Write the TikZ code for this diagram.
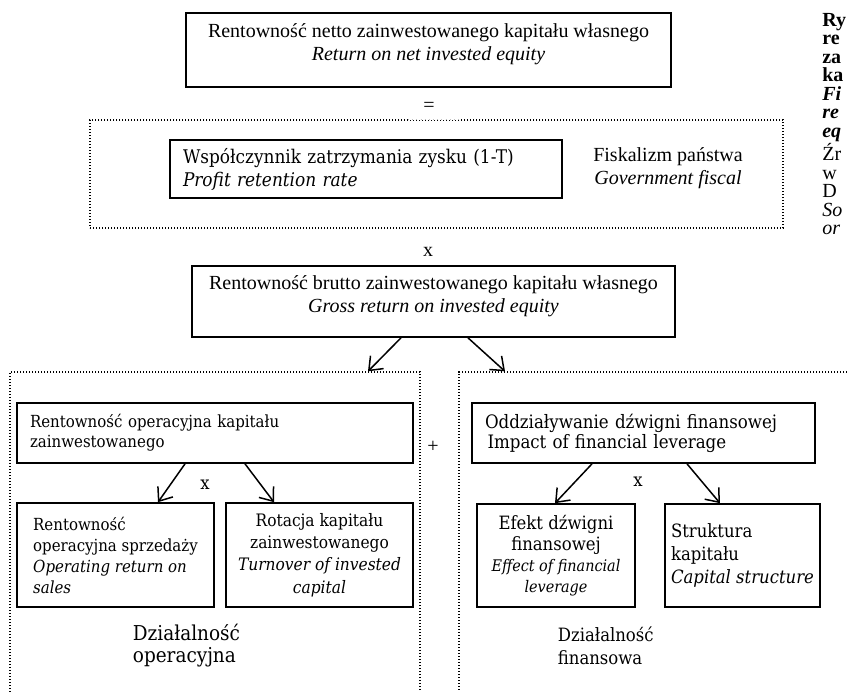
\documentclass[tikz,border=0pt]{standalone}
\usepackage{fontspec}
\setmainfont{Liberation Serif}
\newfontfamily\camfont{DejaVu Serif Condensed}
\usetikzlibrary{arrows.meta,calc}

\begin{document}
\begin{tikzpicture}[
  x=0.6pt, y=-0.6pt,
  font=\fontsize{12}{13.8}\selectfont,
  box/.style={draw,line width=1pt,inner sep=0pt},
  cam/.style args={#1/#2}{font=\camfont\fontsize{#1}{#2}\selectfont},
  frame/.style={draw,line width=0.8pt,dash pattern=on 0.7pt off 1.1pt,inner sep=0pt},
  arr/.style={-{Straight Barb[length=7pt,width=11pt]},line width=0.9pt},
]
  \useasboundingbox (0,0) rectangle (847,691);

  % Net return and the tax factor
  \node[box,minimum width=291pt,minimum height=44.4pt,align=center,text depth=9pt] (net) at (428.5,50)
    {Rentowność netto zainwestowanego kapitału własnego\\\textit{Return on net invested equity}};
  \node (eq) at (429,107) {=};

  \node[frame,minimum width=415.8pt,minimum height=64.8pt] (fisc) at (436.5,174) {};
  \draw[white,line width=1.2pt] ($(fisc.north)+(-28.5,0)$) -- ($(fisc.north)+(23.5,0)$);
  \draw[gray!50,line width=0.5pt,dash pattern=on 0.5pt off 2pt] ($(fisc.north)+(-28.5,0)$) -- ($(fisc.north)+(23.5,0)$);
  \node[box,cam=11.3/13.8,text width=219.6pt,inner xsep=7.8pt,minimum height=34.8pt,align=left] (ret) at (366,169)
    {Współczynnik zatrzymania zysku (1-T)\\\textit{Profit retention rate}};
  \node[align=center] (gov) at (668,168.5) {Fiskalizm państwa\\\textit{Government fiscal}};

  \node (mul1) at (428,252) {x};
  \node[box,minimum width=289.8pt,minimum height=42.6pt,align=center,text depth=9pt] (gross) at (433.5,301.5)
    {Rentowność brutto zainwestowanego kapitału własnego\\\textit{Gross return on invested equity}};

  % Operating and financial activity
  \node[frame,minimum width=246pt,minimum height=196.8pt] (opf) at (215,536) {};
  \node[frame,minimum width=246.6pt,minimum height=196.8pt] (finf) at (664.5,536) {};
  \node (plus) at (433,447) {+};
  \draw[arr] ($(gross.south)+(-32.5,0)$) -- ($(opf.north)+(153,0)$);
  \draw[arr] ($(gross.south)+(34.5,0)$) -- ($(finf.north)+(-159.5,0)$);

  \node[box,cam=10/12,text width=222pt,inner xsep=7.8pt,minimum height=36pt,align=left] (op) at (215,433)
    {Rentowność operacyjna kapitału\\zainwestowanego};
  \node[cam=11/13] (mul2) at (205,485) {x};
  \node[box,cam=10/12.6,minimum width=118.2pt,minimum height=62.4pt,align=left] (ros) at (115.5,555)
    {Rentowność\\operacyjna sprzedaży\\\textit{Operating return on}\\\textit{sales}};
  \node[box,cam=10.3/13.4,minimum width=112.2pt,minimum height=62.4pt,align=center] (rot) at (319.5,555)
    {Rotacja kapitału\\zainwestowanego\\\textit{Turnover of invested}\\\textit{capital}};
  \draw[arr] ($(op.south)+(-30,0)$) -- ($(ros.north)+(42.5,0)$);
  \draw[arr] ($(op.south)+(30,0)$) -- ($(rot.north)+(-45.5,0)$);
  \node[cam=12.3/13.2,align=left,anchor=west] (opact) at (127,646) {Działalność\\operacyjna};

  \node[box,cam=11.1/12,text width=190.2pt,inner xsep=7.8pt,minimum height=36pt,align=left] (lev) at (643.5,433)
    {Oddziaływanie dźwigni finansowej\\\hspace{1.5pt}Impact of financial leverage};
  \node[cam=11/13] (mul3) at (638,482) {x};
  \node[box,cam=11/12.6,minimum width=94.8pt,minimum height=61.8pt,align=center] (eff) at (556,555.5)
    {Efekt dźwigni\\finansowej\\\fontsize{9.6}{12}\selectfont\textit{Effect of financial}\\\fontsize{9.6}{11}\selectfont\textit{leverage}};
  \node[box,cam=11/13.6,minimum width=93pt,minimum height=61.8pt,align=left] (str) at (742.5,555.5)
    {Struktura\\kapitału\\\textit{Capital structure}};
  \draw[arr] ($(lev.south)+(-51.5,0)$) -- ($(eff.north)+(-1,0)$);
  \draw[arr] ($(lev.south)+(43.5,0)$) -- ($(str.north)+(-22.5,0)$);
  \node[cam=11/13.8,align=left,anchor=west] (finact) at (552,646) {Działalność\\finansowa};

  % Caption column, cut by the page edge
  \node[anchor=north west,align=left,inner sep=0pt,font=\fontsize{12}{11.1}\selectfont] (cap) at (822,13)
    {\textbf{Ry}\\\textbf{re}\\\textbf{za}\\\textbf{ka}\\\textbf{\textit{Fi}}\\\textbf{\textit{re}}\\\textbf{\textit{eq}}\\Źr\\w\\D\\\textit{So}\\\textit{or}};
\end{tikzpicture}
\end{document}
